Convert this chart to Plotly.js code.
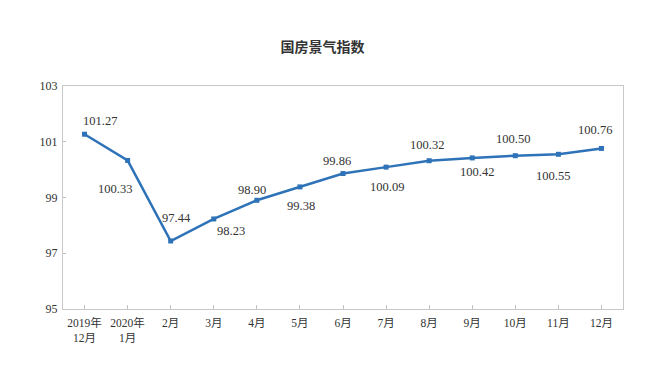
<!DOCTYPE html>
<html>
<head>
<meta charset="utf-8">
<script src="https://cdn.plot.ly/plotly-3.0.1.min.js"></script>
<style>html,body{margin:0;padding:0;background:#fff}#chart{width:645px;height:370px}</style>
</head>
<body>
<div id="chart"></div>
<script>
var categories = ["2019年<br>12月","2020年<br>1月","2月","3月","4月","5月","6月","7月","8月","9月","10月","11月","12月"];
var values = [101.27,100.33,97.44,98.23,98.90,99.38,99.86,100.09,100.32,100.42,100.50,100.55,100.76];
var yTicks = [95,97,99,101,103];
var labelShiftX = [15,-13,6,17,-5,1,-6,1,-2,5,-2,-5,-6];
var labelShiftY = [13,-29,23,-12,10,-19,13,-20,16,-14,17,-22,18];

var lineColor = "#2E72B8";
var annotations = values.map(function(v,i){
  return {x:i, y:v, xref:"x", yref:"y", text:v.toFixed(2), showarrow:false,
    xshift:labelShiftX[i], yshift:labelShiftY[i],
    font:{family:"Liberation Serif, Times New Roman, serif", size:12.5, color:"#333"}};
});

var trace = {
  x: categories.map(function(c,i){return i;}),
  y: values,
  type:"scatter", mode:"lines+markers",
  line:{color:lineColor, width:2.5},
  marker:{symbol:"square", size:5, color:lineColor},
  hoverinfo:"none"
};

var layout = {
  width:645, height:370,
  margin:{l:63, r:22, t:86, b:61},
  paper_bgcolor:"#fff", plot_bgcolor:"#fff",
  showlegend:false,
  title:{text:"国房景气指数", x:0.5, xanchor:"center", y:1-47/370, yanchor:"middle",
    font:{family:"Noto Sans CJK SC, sans-serif", size:14, color:"#333", weight:"bold"}},
  xaxis:{
    range:[-0.5,12.5], tickmode:"array", tickvals:categories.map(function(c,i){return i;}), ticktext:categories,
    showgrid:false, zeroline:false, showline:true, linecolor:"#c8c8c8", linewidth:1, mirror:true,
    ticks:"inside", ticklen:4, tickcolor:"#bfbfbf", tickson:"boundaries", ticklabelstandoff:3,
    tickfont:{family:"Liberation Serif, Noto Sans CJK SC, serif", size:11.5, color:"#333"}
  },
  yaxis:{
    range:[95,103], tickmode:"array", tickvals:yTicks, ticktext:yTicks.map(String),
    showgrid:false, zeroline:false, showline:true, linecolor:"#c8c8c8", linewidth:1, mirror:true,
    ticks:"inside", ticklen:3, tickcolor:"#bfbfbf", ticklabelstandoff:2,
    tickfont:{family:"Liberation Serif, serif", size:12, color:"#333"}
  },
  annotations:annotations
};

Plotly.newPlot("chart",[trace],layout,{displayModeBar:false, staticPlot:true});
</script>
</body>
</html>
